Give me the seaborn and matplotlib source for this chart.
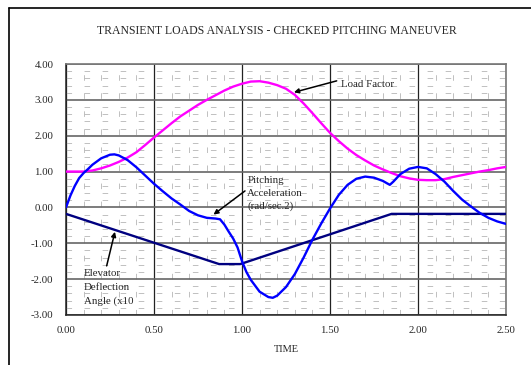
import numpy as np
import pandas as pd
import matplotlib
matplotlib.use("Agg")
import matplotlib.pyplot as plt
from matplotlib.lines import Line2D
from matplotlib.ticker import MultipleLocator, FormatStrFormatter
import seaborn as sns

# ---- data ----
load_t = [0.00, 0.05, 0.10, 0.15, 0.20, 0.25, 0.30, 0.35, 0.40, 0.45, 0.50, 0.55,
          0.60, 0.65, 0.70, 0.75, 0.80, 0.85, 0.90, 0.95, 1.00, 1.05, 1.10, 1.15,
          1.20, 1.25, 1.30, 1.35, 1.40, 1.45, 1.50, 1.55, 1.60, 1.65, 1.70, 1.75,
          1.80, 1.85, 1.90, 1.95, 2.00, 2.05, 2.10, 2.15, 2.20, 2.25, 2.30, 2.35,
          2.40, 2.45, 2.50]
load_v = [1.00, 1.00, 1.00, 1.03, 1.09, 1.17, 1.27, 1.39, 1.54, 1.74, 1.95, 2.15,
          2.35, 2.54, 2.70, 2.86, 3.00, 3.13, 3.26, 3.37, 3.45, 3.51, 3.52, 3.48,
          3.41, 3.31, 3.14, 2.90, 2.63, 2.35, 2.08, 1.85, 1.64, 1.46, 1.31, 1.17,
          1.06, 0.96, 0.87, 0.81, 0.77, 0.76, 0.76, 0.79, 0.85, 0.90, 0.95, 1.00,
          1.04, 1.09, 1.13]

pitch_t = [0.00, 0.025, 0.05, 0.075, 0.10, 0.125, 0.15, 0.20, 0.25, 0.275, 0.30,
           0.35, 0.40, 0.45, 0.50, 0.55, 0.60, 0.65, 0.70, 0.75, 0.80, 0.85, 0.875,
           0.90, 0.925, 0.95, 0.975, 1.00, 1.025, 1.05, 1.10, 1.15, 1.175, 1.20,
           1.25, 1.30, 1.35, 1.40, 1.45, 1.50, 1.55, 1.60, 1.65, 1.70, 1.75, 1.80,
           1.825, 1.84, 1.86, 1.90, 1.95, 2.00, 2.05, 2.10, 2.15, 2.20, 2.25, 2.30,
           2.35, 2.40, 2.45, 2.50]
pitch_v = [0.00, 0.33, 0.60, 0.82, 0.96, 1.07, 1.19, 1.37, 1.47, 1.48, 1.45,
           1.32, 1.12, 0.89, 0.66, 0.45, 0.25, 0.08, -0.10, -0.22, -0.29, -0.31, -0.33,
           -0.48, -0.68, -0.87, -1.12, -1.50, -1.80, -2.02, -2.35, -2.50, -2.52, -2.46,
           -2.22, -1.86, -1.40, -0.90, -0.45, -0.03, 0.35, 0.63, 0.80, 0.86, 0.83, 0.74,
           0.67, 0.63, 0.72, 0.93, 1.08, 1.13, 1.09, 0.93, 0.72, 0.46, 0.22, 0.03,
           -0.15, -0.29, -0.39, -0.46]

elev_t = [0.00, 0.87, 0.99, 1.85, 2.50]
elev_v = [-0.18, -1.58, -1.58, -0.18, -0.18]

x_ticks = [0.0, 0.5, 1.0, 1.5, 2.0, 2.5]
y_ticks = [-3, -2, -1, 0, 1, 2, 3, 4]

title = "TRANSIENT LOADS ANALYSIS - CHECKED PITCHING MANEUVER"

# ---- figure ----
sns.set_style("white")
plt.rcParams['font.family'] = ['Liberation Serif', 'DejaVu Serif']
plt.rcParams['lines.scale_dashes'] = False

fig = plt.figure(figsize=(5.31, 3.65), dpi=100)
ax = fig.add_axes([66/531, 1-315/365, 440/531, 251/365])

df_load = pd.DataFrame({"t": load_t, "v": load_v})
df_pitch = pd.DataFrame({"t": pitch_t, "v": pitch_v})
df_elev = pd.DataFrame({"t": elev_t, "v": elev_v})

sns.lineplot(data=df_load, x="t", y="v", ax=ax, color="#FF00FF", lw=1.7,
             sort=False, estimator=None, zorder=5)
sns.lineplot(data=df_pitch, x="t", y="v", ax=ax, color="#0000FF", lw=1.7,
             sort=False, estimator=None, zorder=6)
sns.lineplot(data=df_elev, x="t", y="v", ax=ax, color="#000080", lw=1.7,
             sort=False, estimator=None, zorder=4)

ax.set_xlim(0, 2.5)
ax.set_ylim(-3, 4)
ax.set_xticks(x_ticks)
ax.set_yticks(y_ticks)
ax.xaxis.set_minor_locator(MultipleLocator(0.1))
ax.yaxis.set_minor_locator(MultipleLocator(0.2))
ax.xaxis.set_major_formatter(FormatStrFormatter("%.2f"))
ax.yaxis.set_major_formatter(FormatStrFormatter("%.2f"))
ax.tick_params(axis='both', which='major', labelsize=7.8, length=3, width=0.8,
               color='#333333', direction='out', pad=5)
ax.tick_params(axis='y', which='major', pad=6)
ax.tick_params(axis='both', which='minor', length=0)
ax.set_axisbelow(True)

# minor dashed grid
ax.grid(which='minor', axis='both', color='#b5b5b5', lw=0.6,
        linestyle=(0, (4, 9)))
# major grid
ax.grid(which='major', axis='x', color='#222222', lw=0.9)
ax.grid(which='major', axis='y', color='#666666', lw=1.2)

for side in ['top', 'right']:
    ax.spines[side].set_color('#777777')
    ax.spines[side].set_linewidth(1.2)
for side in ['left', 'bottom']:
    ax.spines[side].set_color('#222222')
    ax.spines[side].set_linewidth(1.1)

ax.set_xlabel("TIME", fontsize=7.5, labelpad=7)
ax.set_ylabel("")

fig.text(0.522, 1-31/365, title, ha='center', va='center', fontsize=8.5)

# annotations
arrow = dict(arrowstyle='-|>', color='black', lw=1.1, mutation_scale=7,
             shrinkA=0, shrinkB=0)
ax.annotate("", xy=(1.295, 3.21), xytext=(1.538, 3.53), arrowprops=arrow, zorder=8)
ax.text(1.561, 3.43, "Load Factor", fontsize=7.8, ha='left', va='center', zorder=8)

ax.annotate("", xy=(0.838, -0.20), xytext=(1.017, 0.46), arrowprops=arrow, zorder=8)
ax.text(1.03, 0.39, "Pitching\nAcceleration\n(rad/sec.2)", fontsize=7.8,
        ha='left', va='center', linespacing=1.55, zorder=8)

ax.annotate("", xy=(0.278, -0.68), xytext=(0.231, -1.63), arrowprops=arrow, zorder=8)
ax.text(0.102, -2.24, "Elevator\nDeflection\nAngle (x10", fontsize=7.8,
        ha='left', va='center', linespacing=1.65, zorder=8)

# outer frame (left and top edges visible in the reference)
fig.add_artist(Line2D([9/531, 9/531], [0, 1-7.5/365], color='black', lw=1.2,
                      transform=fig.transFigure))
fig.add_artist(Line2D([9/531, 1], [1-7.5/365, 1-7.5/365], color='black', lw=1.2,
                      transform=fig.transFigure))

fig.savefig("out.png", dpi=100)
